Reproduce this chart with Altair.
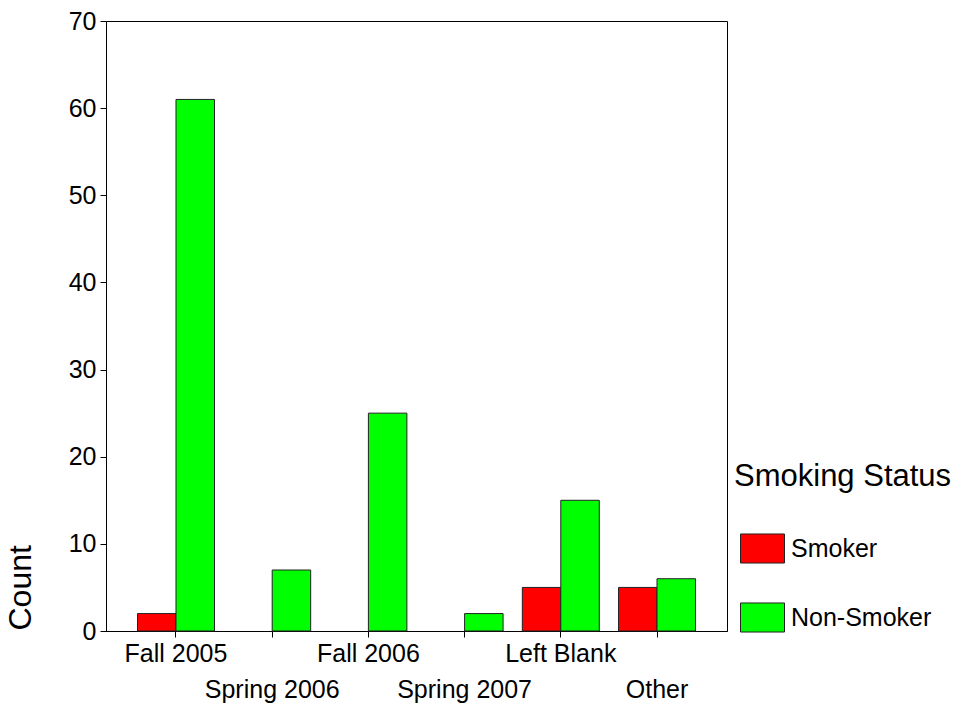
import altair as alt
import pandas as pd

terms = ["Fall 2005", "Spring 2006", "Fall 2006", "Spring 2007", "Left Blank", "Other"]
statuses = ["Smoker", "Non-Smoker"]
smoker_counts = [2, 0, 0, 0, 5, 5]
nonsmoker_counts = [61, 7, 25, 2, 15, 6]
y_ticks = [0, 10, 20, 30, 40, 50, 60, 70]
colors = ["#ff0000", "#00ff00"]

rows = []
for t, s, n in zip(terms, smoker_counts, nonsmoker_counts):
    rows.append({"term": t, "status": "Smoker", "count": s})
    rows.append({"term": t, "status": "Non-Smoker", "count": n})
df = pd.DataFrame(rows)

FONT = "Liberation Sans, Arial, sans-serif"
second_row = ["Spring 2006", "Spring 2007", "Other"]
label_expr = (
    "indexof(" + str(second_row) + ", datum.value) >= 0 ? ['', datum.value] : datum.value"
)

chart = (
    alt.Chart(df)
    .transform_filter("datum.count > 0")
    .mark_bar(stroke="#222222", strokeWidth=1)
    .encode(
        x=alt.X(
            "term:N",
            sort=terms,
            scale=alt.Scale(domain=terms, paddingInner=0.2, paddingOuter=0.3275),
            axis=alt.Axis(
                title=None,
                labelAngle=0,
                labelFontSize=25,
                labelColor="black",
                labelPadding=4,
                labelLineHeight=36,
                labelExpr=label_expr,
                labelLimit=300,
                tickSize=6,
                tickColor="black",
                domainColor="black",
                labelBaseline="top",
            ),
        ),
        xOffset=alt.XOffset(
            "status:N",
            sort=statuses,
            scale=alt.Scale(domain=statuses, paddingInner=0, paddingOuter=0),
        ),
        y=alt.Y(
            "count:Q",
            scale=alt.Scale(domain=[0, 70], nice=False),
            axis=alt.Axis(
                title="Count",
                values=y_ticks,
                grid=False,
                labelFontSize=25,
                labelColor="black",
                labelPadding=4,
                tickSize=6,
                tickColor="black",
                domainColor="black",
                titleFontSize=32,
                titleFontWeight="normal",
                titleColor="black",
                titleAngle=-90,
                titleAlign="left",
                titleBaseline="middle",
                titleX=-86,
                titleY=609,
            ),
        ),
        color=alt.Color(
            "status:N",
            scale=alt.Scale(domain=statuses, range=colors),
            legend=alt.Legend(
                title="Smoking Status",
                orient="none",
                legendX=628,
                legendY=441,
                padding=0,
                titleFontSize=31,
                titleFontWeight="normal",
                titleColor="black",
                titlePadding=33,
                titleLimit=400,
                labelFontSize=25,
                labelColor="black",
                labelOffset=6,
                labelLimit=300,
                symbolType="M-1,-0.66L1,-0.66L1,0.66L-1,0.66Z",
                symbolSize=1936,
                symbolStrokeColor="#222222",
                symbolStrokeWidth=1,
                symbolOffset=6,
                rowPadding=29,
            ),
        ),
    )
    .properties(
        width=621,
        height=610,
        autosize=alt.AutoSizeParams(type="none"),
        padding={"left": 98, "top": 13, "right": 226, "bottom": 72},
    )
    .configure(font=FONT)
    .configure_view(stroke="black", strokeWidth=1)
)

chart.save("out.html", embed_options={"renderer": "svg", "actions": False})
